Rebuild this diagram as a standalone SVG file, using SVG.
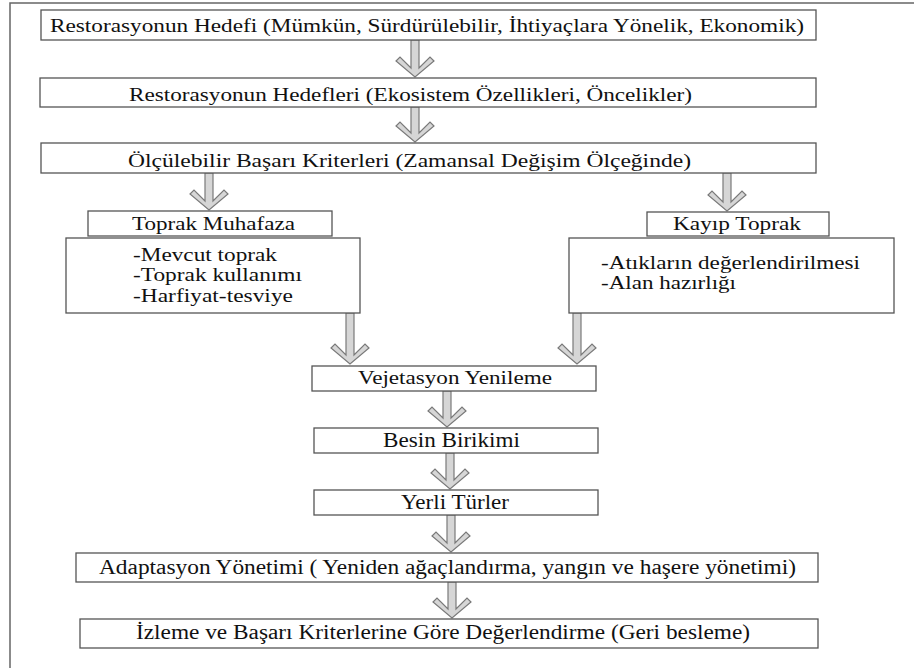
<svg xmlns="http://www.w3.org/2000/svg" width="914" height="668" viewBox="0 0 914 668">
<defs>
<style>
.box{fill:#fff;stroke:#555;stroke-width:1.3}
.t{font-family:"Liberation Serif","Times New Roman",serif;font-size:19px;fill:#111}
.c{font-size:20px}
.arr{fill:#d6d6d6;stroke:#7a7a7a;stroke-width:1.2;stroke-linejoin:miter}
.frame{fill:none;stroke:#666;stroke-width:1.5}
</style>
</defs>
<rect width="914" height="668" fill="#fff"/>
<path class="frame" d="M10,668 V3 H914"/>

<g id="connectors">
<path class="arr" transform="translate(415,40)" d="M-4,0 H4 V28 L15,17 L19,21 L0,37 L-19,21 L-15,17 L-4,28 Z"/>
<path class="arr" transform="translate(415,107)" d="M-4,0 H4 V26 L15,15 L19,19 L0,35 L-19,19 L-15,15 L-4,26 Z"/>
<path class="arr" transform="translate(209,173)" d="M-4,0 H4 V28 L15,17 L19,21 L0,37 L-19,21 L-15,17 L-4,28 Z"/>
<path class="arr" transform="translate(727,173)" d="M-4,0 H4 V29 L15,18 L19,22 L0,38 L-19,22 L-15,18 L-4,29 Z"/>
<path class="arr" transform="translate(350,313)" d="M-4,0 H4 V42 L15,31 L19,35 L0,51 L-19,35 L-15,31 L-4,42 Z"/>
<path class="arr" transform="translate(577,313)" d="M-4,0 H4 V42 L15,31 L19,35 L0,51 L-19,35 L-15,31 L-4,42 Z"/>
<path class="arr" transform="translate(447,391)" d="M-4,0 H4 V27 L15,16 L19,20 L0,36 L-19,20 L-15,16 L-4,27 Z"/>
<path class="arr" transform="translate(450,453)" d="M-4,0 H4 V27 L15,16 L19,20 L0,36 L-19,20 L-15,16 L-4,27 Z"/>
<path class="arr" transform="translate(451,515)" d="M-4,0 H4 V28 L15,17 L19,21 L0,37 L-19,21 L-15,17 L-4,28 Z"/>
<path class="arr" transform="translate(452,582)" d="M-4,0 H4 V27 L15,16 L19,20 L0,36 L-19,20 L-15,16 L-4,27 Z"/>
</g>

<g id="n1"><rect class="box" x="41" y="10" width="775" height="30"/>
<text class="t" font-family="Liberation Serif, serif" x="50" y="31.5" textLength="754" lengthAdjust="spacingAndGlyphs">Restorasyonun Hedefi (Mümkün, Sürdürülebilir, İhtiyaçlara Yönelik, Ekonomik)</text></g>

<g id="n2"><rect class="box" x="40" y="78" width="776" height="29"/>
<text class="t" font-family="Liberation Serif, serif" x="129" y="101" textLength="563" lengthAdjust="spacingAndGlyphs">Restorasyonun Hedefleri (Ekosistem Özellikleri, Öncelikler)</text></g>

<g id="n3"><rect class="box" x="41" y="143" width="775" height="30"/>
<text class="t" font-family="Liberation Serif, serif" x="128" y="166.5" textLength="563" lengthAdjust="spacingAndGlyphs">Ölçülebilir Başarı Kriterleri (Zamansal Değişim Ölçeğinde)</text></g>

<g id="n4"><rect class="box" x="88" y="211" width="244" height="25"/>
<text class="t" font-family="Liberation Serif, serif" x="132" y="229.5" textLength="163" lengthAdjust="spacingAndGlyphs">Toprak Muhafaza</text></g>

<g id="n5"><rect class="box" x="66" y="238" width="294" height="75"/>
<text class="t" font-family="Liberation Serif, serif" x="133" y="261" textLength="144" lengthAdjust="spacingAndGlyphs">-Mevcut toprak</text>
<text class="t" font-family="Liberation Serif, serif" x="133" y="281" textLength="169" lengthAdjust="spacingAndGlyphs">-Toprak kullanımı</text>
<text class="t" font-family="Liberation Serif, serif" x="133" y="301.5" textLength="160" lengthAdjust="spacingAndGlyphs">-Harfiyat-tesviye</text></g>

<g id="n6"><rect class="box" x="647" y="212" width="182" height="24"/>
<text class="t" font-family="Liberation Serif, serif" x="673" y="230" textLength="128" lengthAdjust="spacingAndGlyphs">Kayıp Toprak</text></g>

<g id="n7"><rect class="box" x="569" y="238" width="325" height="75"/>
<text class="t" font-family="Liberation Serif, serif" x="601" y="269" textLength="259" lengthAdjust="spacingAndGlyphs">-Atıkların değerlendirilmesi</text>
<text class="t" font-family="Liberation Serif, serif" x="601" y="289" textLength="135" lengthAdjust="spacingAndGlyphs">-Alan hazırlığı</text></g>

<g id="n8"><rect class="box" x="312" y="366" width="284" height="25"/>
<text class="t" font-family="Liberation Serif, serif" x="358" y="384" textLength="194" lengthAdjust="spacingAndGlyphs">Vejetasyon Yenileme</text></g>

<g id="n9"><rect class="box" x="314" y="428" width="284" height="25"/>
<text class="t c" font-family="Liberation Serif, serif" x="383" y="447" textLength="137" lengthAdjust="spacingAndGlyphs">Besin Birikimi</text></g>

<g id="n10"><rect class="box" x="314" y="490" width="284" height="25"/>
<text class="t c" font-family="Liberation Serif, serif" x="401" y="509" textLength="108" lengthAdjust="spacingAndGlyphs">Yerli Türler</text></g>

<g id="n11"><rect class="box" x="76" y="553" width="742" height="29"/>
<text class="t c" font-family="Liberation Serif, serif" x="99" y="574" textLength="697" lengthAdjust="spacingAndGlyphs">Adaptasyon Yönetimi ( Yeniden ağaçlandırma, yangın ve haşere yönetimi)</text></g>

<g id="n12"><rect class="box" x="80" y="619" width="738" height="29"/>
<text class="t c" font-family="Liberation Serif, serif" x="136" y="639" textLength="614" lengthAdjust="spacingAndGlyphs">İzleme ve Başarı Kriterlerine Göre Değerlendirme (Geri besleme)</text></g>
</svg>
